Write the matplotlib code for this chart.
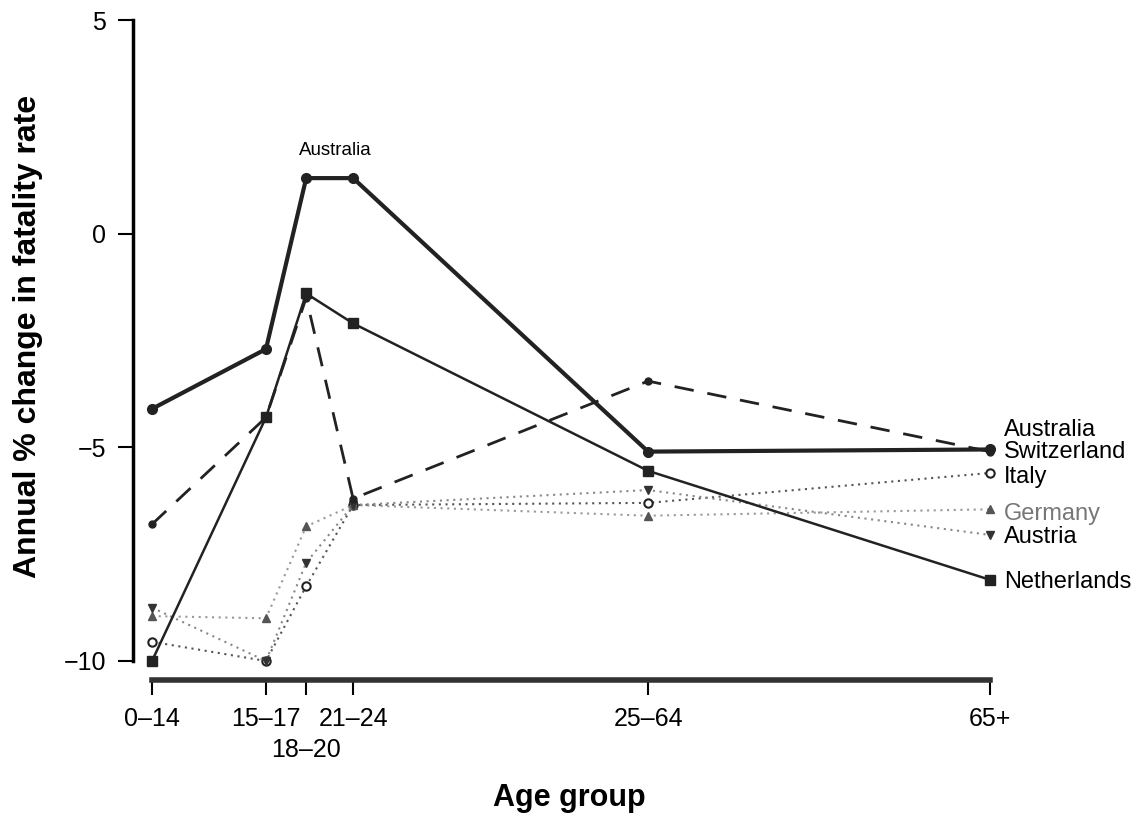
import matplotlib
matplotlib.use('Agg')
import matplotlib.pyplot as plt

plt.rcParams['font.family'] = ['Liberation Sans', 'DejaVu Sans']

# age groups, plotted at their age midpoints
age_labels = ['0–14', '15–17', '18–20', '21–24', '25–64', '65+']
age_mid = [7.5, 16, 19, 22.5, 44.5, 70]

# annual % change in fatality rate
australia = [-4.1, -2.7, 1.3, 1.3, -5.1, -5.05]
switzerland = [-6.8, -4.3, -1.5, -6.2, -3.45, -5.1]
netherlands = [-10.0, -4.3, -1.4, -2.1, -5.55, -8.1]
italy = [-9.55, -10.0, -8.25, -6.35, -6.3, -5.6]
germany = [-8.95, -9.0, -6.85, -6.35, -6.6, -6.45]
austria = [-8.75, -10.0, -7.7, -6.35, -6.0, -7.05]

end_labels = ['Australia', 'Switzerland', 'Italy', 'Germany', 'Austria', 'Netherlands']
end_label_y = [-4.6, -5.12, -5.7, -6.55, -7.1, -8.15]
end_label_col = ['black', 'black', 'black', '#777777', 'black', 'black']

fig = plt.figure(figsize=(11.48, 8.17), dpi=100)
ax = fig.add_axes([152/1148, 1-661/817, 838/1148, 641/817])

dots = (0, (1, 2.2))
ax.plot(age_mid, italy, linestyle=dots, color='#555555', lw=1.5,
        marker='o', mfc='white', mec='#222222', mew=1.5, ms=6, clip_on=False)
ax.plot(age_mid, germany, linestyle=dots, color='#999999', lw=1.5,
        marker='^', mfc='#555555', mec='#555555', ms=6, clip_on=False)
ax.plot(age_mid, austria, linestyle=dots, color='#888888', lw=1.5,
        marker='v', mfc='#333333', mec='#333333', ms=6, clip_on=False)
ax.plot(age_mid, switzerland, linestyle=(0, (7, 5)), color='#222222', lw=2,
        marker='o', ms=5, clip_on=False)
ax.plot(age_mid, netherlands, '-', color='#222222', lw=1.8,
        marker='s', ms=7, clip_on=False)
ax.plot(age_mid, australia, '-', color='#222222', lw=3,
        marker='o', ms=7, clip_on=False)

ax.annotate('Australia', ((age_mid[2] + age_mid[3]) / 2, australia[2]),
            xytext=(4, 14), textcoords='offset points',
            ha='center', va='bottom', fontsize=13.5)

for lab, yv, c in zip(end_labels, end_label_y, end_label_col):
    ax.annotate(lab, (age_mid[-1], yv), xytext=(10, 0), textcoords='offset points',
                ha='left', va='center', fontsize=17, color=c, annotation_clip=False)

ax.set_xlim(age_mid[0], age_mid[-1])
ax.set_ylim(-10, 5)
ax.set_xticks(age_mid)
# 18-20 goes on a second row under its crowded neighbours
ax.set_xticklabels([l if i != 2 else '' for i, l in enumerate(age_labels)])
ax.annotate(age_labels[2], (age_mid[2], 0), xycoords=ax.get_xaxis_transform(),
            xytext=(0, -64), textcoords='offset points',
            ha='center', va='center', fontsize=18, annotation_clip=False)
ax.set_yticks([-10, -5, 0, 5])
ax.tick_params(axis='both', labelsize=18, direction='out', length=11, width=1.5, pad=8)

for s in ['top', 'right']:
    ax.spines[s].set_visible(False)
ax.spines['left'].set_position(('outward', 14))
ax.spines['bottom'].set_position(('outward', 14))
ax.spines['left'].set_linewidth(2.5)
ax.spines['bottom'].set_linewidth(4)
ax.spines['bottom'].set_color('#333333')
ax.spines['left'].set_bounds(-10, 5)
ax.spines['bottom'].set_bounds(age_mid[0], age_mid[-1])
ax.patch.set_visible(False)

lab_font = ['Liberation Sans Narrow', 'Liberation Sans', 'DejaVu Sans']
fig.text(28/1148, 1-336/817, 'Annual % change in fatality rate', rotation=90,
         ha='center', va='center', fontsize=23, fontweight='bold', family=lab_font)
fig.text(569/1148, 1-798/817, 'Age group', ha='center', va='center',
         fontsize=22, fontweight='bold', family=lab_font)

fig.savefig('out.png', dpi=100)
